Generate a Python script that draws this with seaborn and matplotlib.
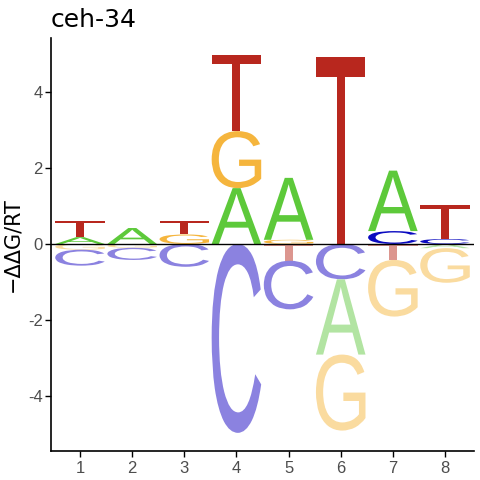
import numpy as np
import pandas as pd
import matplotlib
matplotlib.use('Agg')
import matplotlib.pyplot as plt
import seaborn as sns
from matplotlib.textpath import TextPath
from matplotlib.patches import PathPatch
from matplotlib.font_manager import FontProperties
from matplotlib.transforms import Affine2D

# 数据: 每个位置每个碱基的 -ddG/RT
positions = [1, 2, 3, 4, 5, 6, 7, 8]
val_A = [0.18, 0.42, 0.00, 1.47, 1.63, -1.98, 1.59, -0.11]
val_C = [-0.42, -0.32, -0.60, -4.97, -1.28, -0.93, 0.34, 0.13]
val_G = [-0.15, -0.10, 0.25, 1.50, 0.11, -2.00, -1.49, -0.91]
val_T = [0.42, 0.00, 0.35, 1.99, -0.44, 4.93, -0.42, 0.90]
y_ticks = [-4, -2, 0, 2, 4]
y_ticklabels = ['-4', '-2', '0', '2', '4']
title = 'ceh-34'
ylab = '\u2212\u0394\u0394G/RT'

# 颜色 (正值深色, 负值浅色)
pos_col = {'A': '#5DC93A', 'C': '#0A0AC0', 'G': '#F5B53D', 'T': '#B8271E'}
neg_col = {'A': '#B2E4A2', 'C': '#8B82E0', 'G': '#FADB9F', 'T': '#DC968F'}

df = pd.DataFrame({'pos': positions, 'A': val_A, 'C': val_C, 'G': val_G, 'T': val_T})
df = df.melt(id_vars='pos', var_name='base', value_name='val')

sns.set_theme(style='ticks')
plt.rcParams['font.family'] = ['DejaVu Sans']

fig = plt.figure(figsize=(4.8, 4.8), dpi=100)
ax = fig.add_axes([51 / 480, 29 / 480, 423 / 480, 413 / 480])

fp = FontProperties(family='Liberation Sans', weight='normal')
col_width = 0.95


def draw_letter(letter, x, y0, h, color):
    tp = TextPath((0, 0), letter, size=1, prop=fp)
    bb = tp.get_extents()
    tr = Affine2D().translate(-bb.x0, -bb.y0).scale(col_width / bb.width, abs(h) / bb.height)
    tr = tr.translate(x - col_width / 2, y0 if h > 0 else y0 + h)
    ax.add_patch(PathPatch(tr.transform_path(tp), fc=color, ec='none', lw=0))


for p, grp in df.groupby('pos'):
    up = grp[grp['val'] > 0].sort_values('val')
    y = 0
    for _, r in up.iterrows():
        draw_letter(r['base'], p, y, r['val'], pos_col[r['base']])
        y += r['val']
    dn = grp[grp['val'] < 0].sort_values('val', ascending=False)
    y = 0
    for _, r in dn.iterrows():
        draw_letter(r['base'], p, y, r['val'], neg_col[r['base']])
        y += r['val']

ax.axhline(0, color='black', lw=1)
ax.set_xlim(0.444, 8.556)
ax.set_ylim(-5.447, 5.42)
ax.set_xticks(positions)
ax.set_xticklabels([str(p) for p in positions])
ax.set_yticks(y_ticks)
ax.set_yticklabels(y_ticklabels)
ax.tick_params(axis='both', labelsize=11, labelcolor='#4D4D4D', color='black',
               length=4, width=1, pad=2)
ax.tick_params(axis='x', pad=3)
for lab in ax.get_xticklabels() + ax.get_yticklabels():
    lab.set_family('Liberation Sans')
    lab.set_fontsize(12)
sns.despine(ax=ax)
for s in ['left', 'bottom']:
    ax.spines[s].set_linewidth(1.2)
    ax.spines[s].set_color('black')
ax.set_ylabel(ylab, fontsize=15, color='black', labelpad=4)
ax.set_xlabel('')
ax.set_title(title, loc='left', fontsize=18, color='black', pad=8)

fig.savefig('out.png', dpi=100)
